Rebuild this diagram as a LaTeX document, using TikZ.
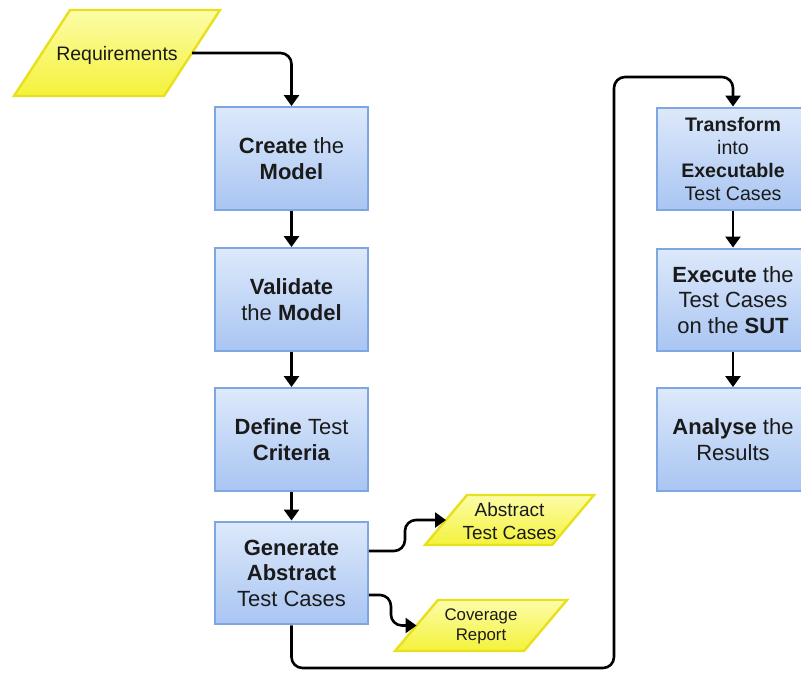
\documentclass[tikz,border=0pt]{standalone}
\usepackage{fontspec}
\setmainfont{Liberation Sans}
\usetikzlibrary{arrows.meta,calc}

\definecolor{boxtop}{HTML}{DDE9FB}
\definecolor{boxbot}{HTML}{A9C5F2}
\definecolor{boxline}{HTML}{7EA6E0}
\definecolor{datatop}{HTML}{FCFCA8}
\definecolor{databot}{HTML}{F4F23A}
\definecolor{dataline}{HTML}{E8E01C}
\definecolor{txt}{HTML}{1A1A1A}

\tikzset{
  stepbox/.style={draw=boxline, line width=2.4pt, top color=boxtop, bottom color=boxbot,
    minimum width=152.5pt, minimum height=102.5pt, inner sep=0pt, align=center,
    text=txt, font=\fontsize{22}{25.5}\selectfont},
  smallbox/.style={stepbox, font=\fontsize{19.6}{23}\selectfont},
  datashape/.style={draw=dataline, line width=2.4pt, top color=datatop, bottom color=databot},
  datatext/.style={align=center, text=txt, inner sep=0pt},
  arr/.style={draw=black, line width=2.6pt, rounded corners=11pt,
    -{Triangle[width=15pt,length=11pt]}}
}

\begin{document}
\begin{tikzpicture}[x=1pt,y=-1pt]
\useasboundingbox (0,0) rectangle (801,673);
\clip (0,0) rectangle (801,673);

% process steps, left column
\node[stepbox] (cm)  at (291.5,158.5) {\textbf{Create} the\\\textbf{Model}};
\node[stepbox] (vm)  at (291.5,299.5) {\textbf{Validate}\\the \textbf{Model}};
\node[stepbox] (dc)  at (291.5,439.5) {\textbf{Define} Test\\\textbf{Criteria}};
\node[stepbox] (gen) at (291.5,573)   {\textbf{Generate}\\\textbf{Abstract}\\Test Cases};

% process steps, right column
\node[smallbox] (tr) at (733,159)   {\textbf{Transform}\\into\\\textbf{Executable}\\Test Cases};
\node[stepbox]  (ex) at (733,300)   {\textbf{Execute} the\\Test Cases\\on the \textbf{SUT}};
\node[stepbox]  (an) at (733,439.5) {\textbf{Analyse} the\\Results};

% data items (parallelograms)
\path[datashape] (70,10) -- (220,10) -- (164,96) -- (14,96) -- cycle;
\node[datatext, font=\fontsize{19.5}{23}\selectfont] (req) at (117,55) {Requirements};
\coordinate (reqR) at (192,53);

\path[datashape] (467,495) -- (594,495) -- (552,545) -- (425,545) -- cycle;
\node[datatext, font=\fontsize{19}{23}\selectfont] (atc) at (509.5,521) {Abstract\\Test Cases};
\coordinate (atcL) at (446,520);

\path[datashape] (438,600) -- (567,600) -- (524,651) -- (395,651) -- cycle;
\node[datatext, font=\fontsize{16.8}{20}\selectfont] (cov) at (481,626.5) {Coverage\\Report};
\coordinate (covL) at (416.5,625.5);

% flow
\draw[arr] (reqR) -| (cm.north);
\draw[arr] (cm.south) -- (vm.north);
\draw[arr] (vm.south) -- (dc.north);
\draw[arr] (dc.south) -- (gen.north);
\draw[arr] ($(gen.east)+(0,-22)$) -- ++(36,0) |- (atcL);
\draw[arr] ($(gen.east)+(0,22)$) -- ++(22,0) |- (covL);

\coordinate (loopA) at (614,668);
\coordinate (loopB) at (614,77);
\draw[arr] (gen.south) |- (loopA) -- (loopB) -| (tr.north);

\draw[arr] (tr.south) -- (ex.north);
\draw[arr] (ex.south) -- (an.north);
\end{tikzpicture}
\end{document}
